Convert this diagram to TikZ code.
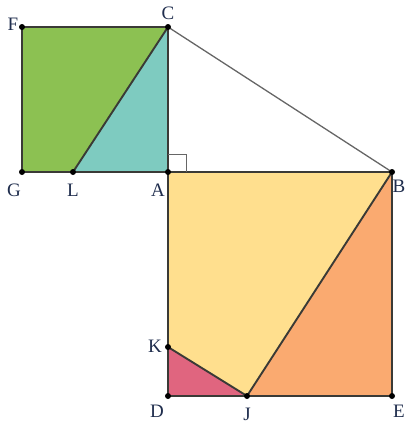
\documentclass[tikz,border=0pt]{standalone}
\usepackage{fontspec}
\setmainfont{Liberation Serif}
\definecolor{cgreen}{HTML}{8CC152}
\definecolor{cteal}{HTML}{7ECBC0}
\definecolor{cyellow}{HTML}{FFDF8E}
\definecolor{corange}{HTML}{FAAA70}
\definecolor{cpink}{HTML}{E0657F}
\definecolor{cline}{HTML}{3A3A36}
\definecolor{clabel}{HTML}{1F2D4D}
\begin{document}
\begin{tikzpicture}[x=1pt,y=-1pt,
  edge/.style={draw=cline,line width=1.9pt,line join=round},
  pt/.style={circle,fill=black,inner sep=0pt,minimum size=6pt},
  lab/.style={text=clabel,font=\fontsize{19}{22}\selectfont,inner sep=0pt}]
\useasboundingbox (0,0) rectangle (406,429);
\coordinate (F) at (22,27);
\coordinate (C) at (168,27);
\coordinate (G) at (22,172);
\coordinate (L) at (73,172);
\coordinate (A) at (168,172);
\coordinate (B) at (392,172);
\coordinate (E) at (392,396);
\coordinate (D) at (168,396);
\coordinate (K) at (168,347);
\coordinate (J) at (247,396);
% fills
\fill[cgreen] (F) -- (C) -- (L) -- (G) -- cycle;
\fill[cteal] (C) -- (A) -- (L) -- cycle;
\fill[cyellow] (A) -- (B) -- (J) -- (K) -- cycle;
\fill[corange] (B) -- (E) -- (J) -- cycle;
\fill[cpink] (K) -- (J) -- (D) -- cycle;
% edges
\draw[edge] (F) -- (C) -- (A) -- (G) -- cycle;
\draw[edge] (C) -- (L);
\draw[edge] (A) -- (B) -- (E) -- (D) -- cycle;
\draw[edge] (K) -- (J) -- (B);
\draw[draw=gray!80!black,line width=1.3pt] (C) -- (B);
% right angle
\draw[draw=gray!80!black,line width=1pt] (168,154) -- (186,154) -- (186,172);
% points
\foreach \p in {F,C,G,L,A,B,E,D,K,J} \node[pt] (p\p) at (\p) {};
% labels
\node[lab] (lF) at (13,24) {F};
\node[lab] (lC) at (168,13) {C};
\node[lab] (lG) at (14,190) {G};
\node[lab] (lL) at (73,190) {L};
\node[lab] (lA) at (158,190) {A};
\node[lab] (lB) at (399,186) {B};
\node[lab] (lK) at (155,346) {K};
\node[lab] (lD) at (157,411) {D};
\node[lab] (lJ) at (247,414) {J};
\node[lab] (lE) at (399,411) {E};
\end{tikzpicture}
\end{document}
